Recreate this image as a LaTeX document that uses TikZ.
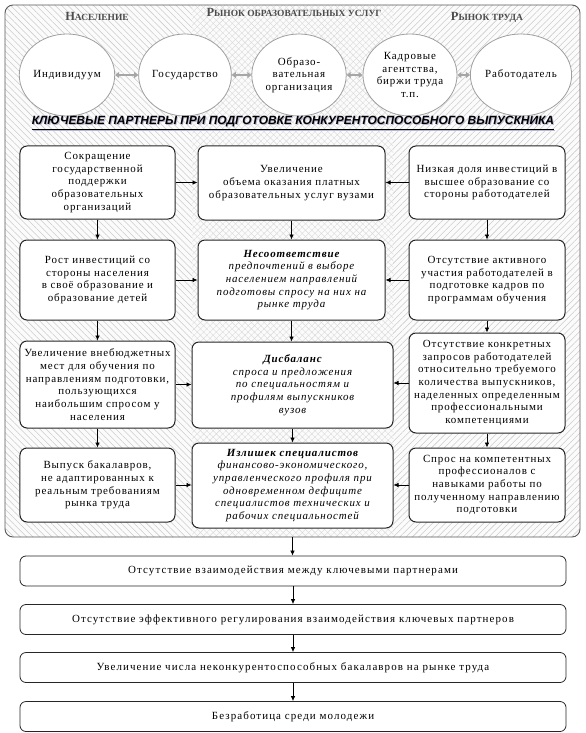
\documentclass[tikz,border=0pt]{standalone}
\usepackage{fontspec}
\setmainfont{Liberation Serif}
\newfontfamily\bxfont{Liberation Serif}[LetterSpace=8]
\newfontfamily\bbfont{Liberation Serif}[LetterSpace=10]
\newfontfamily\ttlfont{Liberation Sans}
\usetikzlibrary{arrows.meta,patterns.meta,shapes.geometric}
\newcommand{\hdrtxt}[2]{{\fontsize{12.5}{13}\selectfont #1}{\fontsize{9.5}{10}\selectfont #2}}
\tikzset{
  box/.style={draw=black!85, line width=1bp, rounded corners=7bp, fill=white,
    align=center, inner sep=1bp, font=\bxfont\fontsize{11}{12.7}\selectfont},
  mbox/.style={box, font=\bxfont\itshape\fontsize{11}{12.7}\selectfont},
  bbox/.style={box, line width=0.8bp, rounded corners=6bp, minimum width=546bp, minimum height=30bp,
    font=\bbfont\fontsize{11}{12.7}\selectfont},
  circ/.style={ellipse, draw=gray!75, line width=0.8bp, fill=white, minimum width=92bp,
    minimum height=82bp, inner sep=0pt, align=center, font=\bxfont\fontsize{11}{12.7}\selectfont},
  carrow/.style={{Triangle[width=6bp,length=4bp]}-{Triangle[width=6bp,length=4bp]}, draw=gray!70, line width=2bp},
  arr/.style={-{Latex[length=5bp,width=4.5bp]}, draw=black, line width=0.7bp},
  hdr/.style={font=\bfseries, text=black!70, align=center},
  ttl/.style={font=\ttlfont\bfseries\itshape\fontsize{12}{14}\selectfont},
}
\begin{document}
\begin{tikzpicture}[x=1bp,y=-1bp]
\useasboundingbox (0,0) rectangle (586,733);
% background panels
\begin{scope}
\clip[rounded corners=8bp] (5,5) rectangle (580,537);
\fill[gray!3] (5,5) rectangle (580,537);
\fill[pattern={Lines[angle=135,distance=4.5bp,line width=0.55bp]}, pattern color=gray!40] (5,5) rectangle (192,537);
\fill[pattern={Lines[angle=45,distance=4.5bp,line width=0.55bp]}, pattern color=gray!40] (393,5) rectangle (580,537);
\fill[pattern={Hatch[angle=45,distance=4.5bp,line width=0.4bp]}, pattern color=gray!30] (192,5) rectangle (393,537);
\end{scope}
\node[draw=gray!70!black, line width=0.9bp, rounded corners=8bp, minimum width=575bp, minimum height=532bp, inner sep=0pt] (F) at (292.5,271) {};
% headers
\node[hdr] (H1) at (97,16) {\hdrtxt{Н}{АСЕЛЕНИЕ}};
\node[hdr] (H2) at (294,12) {\hdrtxt{Р}{ЫНОК ОБРАЗОВАТЕЛЬНЫХ УСЛУГ}};
\node[hdr] (H3) at (487,17) {\hdrtxt{Р}{ЫНОК ТРУДА}};
% circles
\node[circ] (C1) at (67,75) {Индивидуум};
\node[circ] (C2) at (185,75) {Государство};
\node[circ] (C3) at (299,75) {Образо-\\вательная\\организация};
\node[circ] (C4) at (410,75) {Кадровые\\агентства,\\биржи труда\\т.п.};
\node[circ] (C5) at (521,75) {Работодатель};
\draw[carrow] (C1) -- (C2);
\draw[carrow] (C2) -- (C3);
\draw[carrow] (C3) -- (C4);
\draw[carrow] (C4) -- (C5);
% title
\node[ttl, text=blue!25!gray!45] at (293.9,124) {\underline{КЛЮЧЕВЫЕ ПАРТНЕРЫ ПРИ ПОДГОТОВКЕ КОНКУРЕНТОСПОСОБНОГО ВЫПУСКНИКА}};
\node[ttl] (T) at (293,123) {\underline{КЛЮЧЕВЫЕ ПАРТНЕРЫ ПРИ ПОДГОТОВКЕ КОНКУРЕНТОСПОСОБНОГО ВЫПУСКНИКА}};
% left column
\node[box, minimum width=155bp, minimum height=73bp] (L1) at (97.5,182.5) {Сокращение\\государственной\\поддержки\\образовательных\\организаций};
\node[box, minimum width=155bp, minimum height=80bp] (L2) at (97.5,280) {Рост инвестиций со\\стороны населения\\в своё образование и\\образование детей};
\node[box, minimum width=155bp, minimum height=87bp] (L3) at (97.5,384.5) {Увеличение внебюджетных\\мест для обучения по\\направлениям подготовки,\\пользующихся\\наибольшим спросом у\\населения};
\node[box, minimum width=155bp, minimum height=74bp] (L4) at (97.5,485) {Выпуск бакалавров,\\не адаптированных к\\реальным требованиям\\рынка труда};
% middle column
\node[box, minimum width=187bp, minimum height=74bp] (M1) at (291.5,183) {Увеличение\\объема оказания платных\\образовательных услуг вузами};
\node[mbox, minimum width=187bp, minimum height=80bp] (M2) at (291.5,280) {\textbf{Несоответствие}\\предпочтений в выборе\\населением направлений\\подготовы спросу на них на\\рынке труда};
\node[mbox, minimum width=201bp, minimum height=86bp] (M3) at (292.5,385) {\textbf{Дисбаланс}\\спроса и предложения\\по специальностям и\\профилям выпускников\\вузов};
\node[mbox, minimum width=201bp, minimum height=85bp] (M4) at (292.5,485.5) {\textbf{Излишек специалистов}\\финансово-экономического,\\управленческого профиля при\\одновременном дефиците\\специалистов технических и\\рабочих специальностей};
% right column
\node[box, minimum width=156bp, minimum height=73bp] (R1) at (487,182.5) {Низкая доля инвестиций в\\высшее образование со\\стороны работодателей};
\node[box, minimum width=156bp, minimum height=80bp] (R2) at (487,280) {Отсутствие активного\\участия работодателей в\\подготовке кадров по\\программам обучения};
\node[box, minimum width=156bp, minimum height=100bp] (R3) at (487,383) {Отсутствие конкретных\\запросов работодателей\\относительно требуемого\\количества выпускников,\\наделенных определенным\\профессиональными\\компетенциями};
\node[box, minimum width=156bp, minimum height=74bp] (R4) at (487,485) {Спрос на компетентных\\профессионалов с\\навыками работы по\\полученному направлению\\подготовки};
% column arrows
\draw[arr] (L1) -- (L2);
\draw[arr] (L2) -- (L3);
\draw[arr] (L3) -- (L4);
\draw[arr] (R1) -- (R2);
\draw[arr] (R2) -- (R3);
\draw[arr] (R3) -- (R4);
\draw[arr] (M1) -- (M2);
\draw[arr] (M2.south) -- (M2.south |- M3.north);
\draw[arr] (M3) -- (M4);
\draw[arr] (L1.east) -- (L1.east -| M1.west);
\draw[arr] (L2.east) -- (L2.east -| M2.west);
\draw[arr] (L3.east) -- (L3.east -| M3.west);
\draw[arr] (L4.east) -- (L4.east -| M4.west);
\draw[arr] (R1.west) -- (R1.west -| M1.east);
\draw[arr] (R2.west) -- (R2.west -| M2.east);
\draw[arr] (R3.west) -- (R3.west -| M3.east);
\draw[arr] (R4.west) -- (R4.west -| M4.east);
% bottom chain
\node[bbox] (B1) at (293,571) {Отсутствие взаимодействия между ключевыми партнерами};
\node[bbox] (B2) at (293,619.5) {Отсутствие эффективного регулирования взаимодействия ключевых партнеров};
\node[bbox] (B3) at (293,667.5) {Увеличение числа неконкурентоспособных бакалавров на рынке труда};
\node[bbox] (B4) at (293,716.5) {Безработица среди молодежи};
\draw[arr] (F.south) -- (F.south |- B1.north);
\draw[arr] (B1) -- (B2);
\draw[arr] (B2) -- (B3);
\draw[arr] (B3) -- (B4);
\end{tikzpicture}
\end{document}
